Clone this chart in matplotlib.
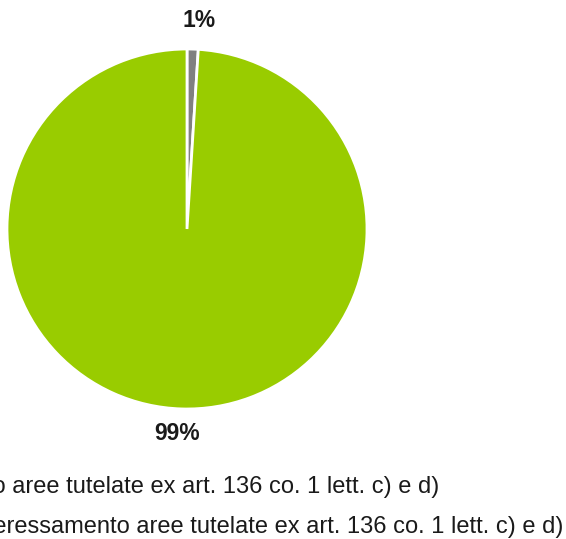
import numpy as np
import matplotlib
matplotlib.use('Agg')
import matplotlib.pyplot as plt

plt.rcParams['font.family'] = ['Liberation Sans', 'DejaVu Sans']

# Shares of the study area
categories = [
    "Interessamento aree tutelate ex art. 136 co. 1 lett. c) e d)",
    "Assenza di interessamento aree tutelate ex art. 136 co. 1 lett. c) e d)",
]
shares = [1, 99]
labels = ["1%", "99%"]
colors = ['#808080', '#99CC00']

W, H = 566, 539
fig = plt.figure(figsize=(W / 100, H / 100), dpi=100)

# pie centre and radius in pixels
cx, cy, r = 187, 229, 180
ax = fig.add_axes([(cx - r) / W, (H - cy - r) / H, 2 * r / W, 2 * r / H])
wedges, _ = ax.pie(
    shares, colors=colors, startangle=90, counterclock=False,
    wedgeprops=dict(edgecolor='white', linewidth=2),
)
ax.set_aspect('equal')
ax.set_xlim(-1, 1)
ax.set_ylim(-1, 1)

# percentage labels just outside each wedge
for w, lab, dist, nudge in zip(wedges, labels, [1.16, 1.135], [6, -4]):
    mid = np.deg2rad((w.theta1 + w.theta2) / 2)
    ax.annotate(lab, (dist * np.cos(mid), dist * np.sin(mid)),
                xytext=(nudge, 0), textcoords='offset pixels',
                ha='center', va='center', fontsize=16.5, fontweight='bold',
                color='#1a1a1a', annotation_clip=False)

# legend lines, right end fixed, start runs past the left border
for txt, y_base, x_end in zip(categories, [493, 533], [439, 563]):
    fig.text(x_end / W, 1 - y_base / H, txt, ha='right', va='baseline',
             fontsize=17, color='#1a1a1a')

fig.savefig('out.png', dpi=100, facecolor='white')
